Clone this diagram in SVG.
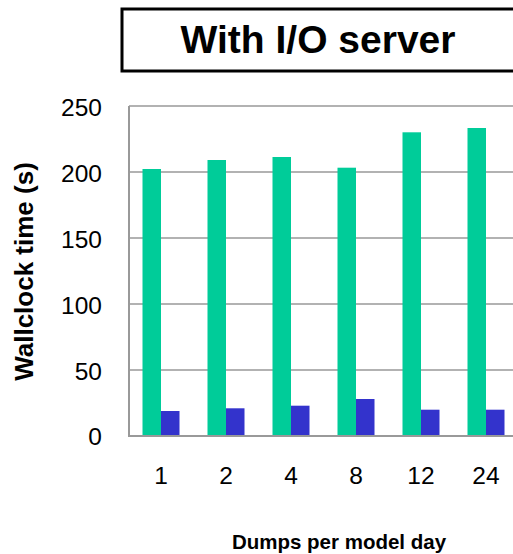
<svg xmlns="http://www.w3.org/2000/svg" width="513" height="554" viewBox="0 0 513 554">
<style>
text{font-family:"Liberation Sans",Arial,sans-serif;fill:#000}
.grid{stroke:#999;stroke-width:1.5;fill:none}
.axis{stroke:#999;stroke-width:2;fill:none}
.tick{font-size:24.5px;text-anchor:end}
.xl{font-size:24.5px;text-anchor:middle}
.g{fill:#00CC99}
.b{fill:#3333CC}
</style>
<rect width="513" height="554" fill="#fff"/>
<g id="title">
<rect x="122" y="9" width="395" height="62" fill="#fff" stroke="#000" stroke-width="3"/>
<text x="318" y="53" font-size="39" font-weight="bold" text-anchor="middle">With I/O server</text>
</g>
<g id="gridlines">
<line class="grid" x1="129" y1="106" x2="513" y2="106"/>
<line class="grid" x1="129" y1="172" x2="513" y2="172"/>
<line class="grid" x1="129" y1="238" x2="513" y2="238"/>
<line class="grid" x1="129" y1="304" x2="513" y2="304"/>
<line class="grid" x1="129" y1="370" x2="513" y2="370"/>
</g>
<g id="bars">
<rect class="g" x="142.5" y="169" width="18.5" height="267"/>
<rect class="b" x="161" y="411" width="18.5" height="25"/>
<rect class="g" x="207.5" y="160" width="18.5" height="276"/>
<rect class="b" x="226" y="408.3" width="18.5" height="27.7"/>
<rect class="g" x="272.5" y="157" width="18.5" height="279"/>
<rect class="b" x="291" y="405.7" width="18.5" height="30.3"/>
<rect class="g" x="337.5" y="167.7" width="18.5" height="268.3"/>
<rect class="b" x="356" y="399" width="18.5" height="37"/>
<rect class="g" x="402.5" y="132.3" width="18.5" height="303.7"/>
<rect class="b" x="421" y="409.7" width="18.5" height="26.3"/>
<rect class="g" x="467.5" y="128" width="18.5" height="308"/>
<rect class="b" x="486" y="409.7" width="18.5" height="26.3"/>
</g>
<g id="axes">
<line class="axis" x1="129" y1="106" x2="129" y2="437"/>
<line class="axis" x1="128" y1="436" x2="513" y2="436"/>
</g>
<g id="yticks">
<text class="tick" x="102" y="115.5">250</text>
<text class="tick" x="102" y="181.5">200</text>
<text class="tick" x="102" y="247.5">150</text>
<text class="tick" x="102" y="313.5">100</text>
<text class="tick" x="102" y="379.5">50</text>
<text class="tick" x="102" y="445">0</text>
</g>
<g id="xticks">
<text class="xl" x="161" y="484">1</text>
<text class="xl" x="226" y="484">2</text>
<text class="xl" x="291" y="484">4</text>
<text class="xl" x="356" y="484">8</text>
<text class="xl" x="421" y="484">12</text>
<text class="xl" x="486" y="484">24</text>
</g>
<g id="axis-titles">
<text x="339" y="549" font-size="20.5" font-weight="bold" text-anchor="middle">Dumps per model day</text>
<text transform="translate(33,271.5) rotate(-90)" font-size="26" font-weight="bold" text-anchor="middle">Wallclock time (s)</text>
</g>
</svg>
